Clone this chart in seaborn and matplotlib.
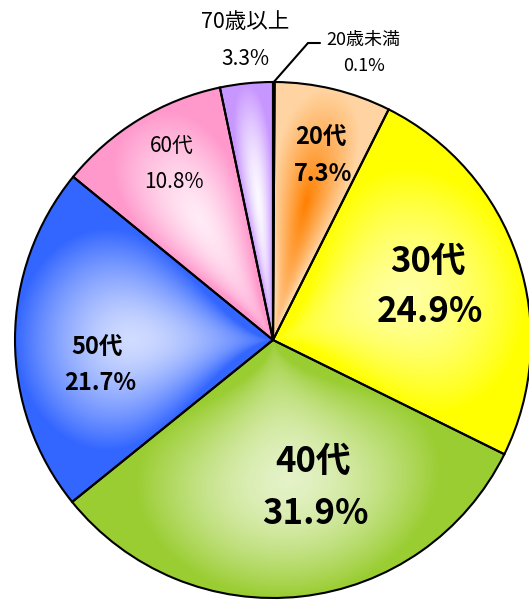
import numpy as np
import matplotlib
matplotlib.use("Agg")
import matplotlib.pyplot as plt
import seaborn as sns

# age groups and their shares (%)
labels = ["20歳未満", "20代", "30代", "40代", "50代", "60代", "70歳以上"]
shares = [0.1, 7.3, 24.9, 31.9, 21.7, 10.8, 3.3]

# outer (edge) colour and inner (centre) colour of each slice gradient
edge_colors = ["#FFCC99", "#FFD4A2", "#FFFF00", "#9ACD32", "#3366FF", "#FF99CC", "#C896FF"]
inner_colors = ["#FFCC99", "#FF8000", "#FFFFA0", "#E4F2C6", "#D0DBFF", "#FFEAF5", "#FBF8FF"]

sns.set_theme(style="white")
plt.rcParams["font.family"] = ["Noto Sans CJK JP", "DejaVu Sans"]

W, H = 529, 600
fig = plt.figure(figsize=(W / 100, H / 100), dpi=100)
ax = fig.add_axes([0, 0, 1, 1])
cx, cy, R = 273, 260, 258

wedges, _ = ax.pie(shares, startangle=90, counterclock=False, center=(cx, cy),
                   radius=R, colors=["none"] * len(shares),
                   wedgeprops=dict(edgecolor="black", linewidth=1.5))

# gradient fill clipped to every wedge
xx, yy = np.meshgrid(np.arange(W) + 0.5, np.arange(H) + 0.5)
dx, dy = xx - cx, yy - cy
rr = np.hypot(dx, dy) / R
ang = np.degrees(np.arctan2(dy, dx))
rc = 0.55
for i, (w, c_out, c_in) in enumerate(zip(wedges, edge_colors, inner_colors)):
    half = (w.theta2 - w.theta1) / 2
    mid = w.theta1 + half
    diff = (ang - mid + 180) % 360 - 180
    a = np.abs(diff) / max(half, 1e-6)
    b = np.where(rr > rc, (rr - rc) / (1 - rc), (rc - rr) / rc)
    t = np.clip(np.hypot(a, b), 0, 1)
    t = t ** (1.0 if i == 1 else 1.6)
    cmap = sns.blend_palette([c_in, c_out], as_cmap=True)
    img = ax.imshow(t, cmap=cmap, vmin=0, vmax=1, extent=(0, W, 0, H),
                    origin="lower", interpolation="bilinear", zorder=0)
    img.set_clip_path(w)

ax.set_xlim(0, W)
ax.set_ylim(0, H)
ax.set_aspect("auto")
ax.axis("off")

# leader line for the tiny slice
w0 = wedges[0]
m0 = np.radians((w0.theta1 + w0.theta2) / 2)
ax.plot([cx + R * np.cos(m0), 308, 320], [cy + R * np.sin(m0), H - 43, H - 43],
        color="black", lw=1.5, solid_joinstyle="miter")

fam = ["Noto Sans CJK JP", "DejaVu Sans"]


def label(x, y, s, size, weight="normal"):
    ax.text(x, H - y, s, ha="center", va="center", fontsize=size,
            fontweight=weight, family=fam, color="black")


label(245, 22, labels[6], 15.5)
label(245, 59, f"{shares[6]}%", 15)
label(363, 40, labels[0], 13)
label(364, 66, f"{shares[0]}%", 13)
label(321, 138, labels[1], 17, "bold")
label(323, 174, f"{shares[1]}%", 17, "bold")
label(428, 261, labels[2], 25, "bold")
label(430, 311, f"{shares[2]}%", 25, "bold")
label(313, 461, labels[3], 25, "bold")
label(315, 513, f"{shares[3]}%", 25, "bold")
label(97, 348, labels[4], 17, "bold")
label(100, 383, f"{shares[4]}%", 17, "bold")
label(172, 146, labels[5], 15)
label(174, 182, f"{shares[5]}%", 15)

fig.savefig("out.png", dpi=100)
